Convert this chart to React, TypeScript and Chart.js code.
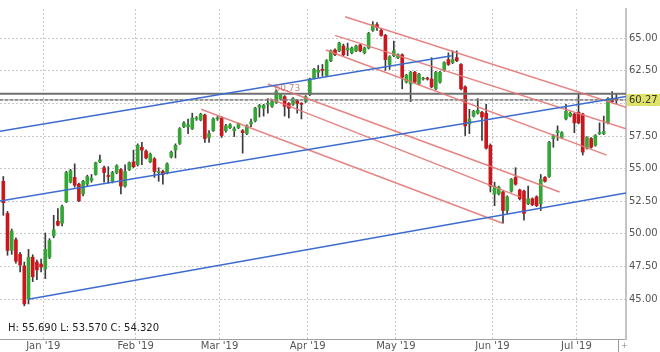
import React, { useEffect, useRef } from "react";
import { Chart, registerables } from "chart.js";

Chart.register(...registerables);

// ---- Data (daily candles, index = trading day, starting mid-December 2018) ----
const openP = [
  54.03, 51.57, 48.73, 49.55, 48.43, 47.54, 45.0, 48.21, 47.84, 47.69,
  47.31, 48.21, 49.85, 50.97, 50.82, 52.46, 53.96, 54.33, 53.81, 53.06,
  53.81, 54.1, 54.55, 55.52, 55.07, 54.48, 54.03, 54.7, 54.93, 53.66,
  54.93, 55.52, 55.3, 56.64, 56.34, 55.52, 55.75, 54.7, 54.78, 54.7,
  55.9, 56.42, 56.94, 58.21, 58.21, 58.06, 58.81, 58.73, 59.11, 57.39,
  57.91, 58.81, 58.88, 57.91, 58.14, 57.91, 58.14, 57.91, 57.69, 58.43,
  58.66, 59.7, 59.63, 59.93, 59.78, 60.07, 60.37, 60.52, 60.0, 59.93,
  60.22, 60.0, 60.15, 60.67, 61.94, 62.39, 62.61, 62.16, 63.28, 64.1,
  64.03, 64.4, 64.1, 63.88, 64.03, 64.48, 63.88, 64.25, 65.6, 66.04,
  65.6, 65.22, 62.99, 63.66, 63.51, 63.73, 61.64, 61.49, 62.39, 61.49,
  61.87, 61.94, 61.87, 61.12, 61.64, 62.54, 63.36, 63.13, 63.51, 62.99,
  61.27, 58.43, 59.03, 59.25, 59.33, 59.25, 56.79, 53.06, 53.06, 53.21,
  51.79, 53.28, 54.33, 53.36, 53.28, 52.31, 52.69, 52.84, 52.31, 54.33,
  54.4, 57.31, 57.76, 57.39, 58.81, 59.03, 59.18, 59.33, 59.18, 56.57,
  57.31, 56.79, 57.69, 57.69, 58.51, 60.37, 60.37,
];
const highP = [
  54.4, 51.72, 50.37, 49.7, 48.58, 47.84, 48.81, 48.4, 48.0, 48.06,
  50.07, 49.63, 51.42, 51.94, 52.2, 54.8, 54.95, 55.37, 53.9, 54.1,
  54.5, 54.55, 55.5, 56.04, 55.2, 55.15, 54.8, 55.3, 55.0, 55.3,
  55.52, 56.42, 56.9, 57.02, 56.45, 56.2, 55.85, 55.07, 54.9, 55.45,
  56.35, 56.9, 58.15, 58.6, 58.81, 59.25, 59.0, 59.25, 59.18, 57.91,
  58.9, 59.0, 59.0, 58.4, 58.45, 58.2, 58.5, 58.0, 58.36, 58.81,
  59.7, 59.93, 59.93, 60.37, 60.22, 61.04, 60.75, 60.6, 60.07, 60.45,
  60.3, 60.07, 60.6, 61.94, 62.7, 62.91, 62.99, 63.36, 64.1, 64.18,
  64.7, 64.55, 64.63, 64.33, 64.48, 64.55, 64.33, 65.45, 66.27, 66.19,
  65.75, 65.3, 63.66, 64.78, 63.8, 63.8, 62.24, 62.46, 62.46, 62.31,
  62.01, 62.01, 63.51, 62.46, 62.46, 63.2, 63.88, 64.03, 64.03, 63.05,
  61.35, 59.55, 59.48, 60.37, 59.4, 59.93, 56.9, 53.96, 53.66, 53.28,
  52.92, 54.25, 55.07, 53.43, 53.36, 53.66, 52.76, 52.92, 54.55, 54.4,
  57.09, 57.61, 58.28, 57.84, 59.93, 59.33, 59.25, 60.67, 59.25, 57.46,
  57.39, 57.61, 58.51, 59.03, 60.45, 60.9, 60.75,
];
const lowP = [
  51.42, 48.36, 48.43, 47.76, 47.09, 44.48, 44.63, 46.34, 46.49, 47.09,
  46.57, 48.1, 49.7, 50.6, 50.6, 52.4, 53.9, 53.58, 52.46, 52.9,
  53.7, 53.96, 54.5, 55.45, 53.96, 53.88, 53.9, 54.6, 53.06, 53.58,
  54.85, 55.07, 55.2, 55.3, 55.75, 55.45, 54.33, 54.03, 53.81, 54.6,
  55.82, 55.82, 56.85, 58.14, 57.69, 58.0, 58.7, 58.66, 57.02, 57.02,
  57.85, 58.7, 57.39, 57.8, 58.06, 57.46, 58.06, 56.19, 57.6, 58.21,
  58.58, 58.96, 59.03, 59.25, 59.7, 60.0, 60.3, 59.03, 58.88, 59.85,
  59.25, 58.81, 60.07, 60.6, 61.87, 62.01, 62.09, 62.09, 63.2, 63.66,
  63.96, 63.66, 63.66, 63.8, 63.96, 63.96, 63.8, 64.18, 65.52, 65.6,
  65.15, 62.54, 62.61, 63.58, 63.43, 61.12, 61.56, 60.15, 61.56, 61.42,
  61.79, 61.79, 61.2, 61.04, 61.56, 62.46, 62.91, 63.05, 63.2, 61.04,
  57.54, 57.69, 58.96, 59.18, 57.16, 56.5, 53.21, 52.16, 52.98, 50.82,
  51.57, 53.2, 53.73, 52.6, 51.05, 52.24, 52.16, 52.09, 51.79, 53.96,
  54.33, 56.64, 57.16, 57.31, 58.73, 58.96, 57.76, 58.43, 56.04, 56.5,
  56.57, 56.72, 57.61, 57.61, 58.43, 60.07, 60.0,
];
const closeP = [
  52.39, 48.73, 50.22, 47.91, 47.61, 44.63, 48.21, 46.72, 47.24, 47.46,
  48.81, 49.48, 50.3, 50.67, 52.09, 54.7, 54.85, 53.73, 52.54, 54.03,
  54.4, 54.25, 55.45, 55.67, 54.7, 54.4, 54.7, 55.22, 53.66, 54.78,
  55.45, 55.15, 56.79, 56.42, 55.82, 56.12, 54.78, 54.78, 54.55, 55.37,
  56.27, 56.79, 58.06, 58.51, 58.36, 58.88, 58.88, 59.18, 57.31, 57.69,
  58.81, 58.88, 57.54, 58.28, 58.36, 58.06, 58.43, 57.76, 58.28, 58.58,
  59.63, 59.85, 59.85, 60.0, 60.15, 60.9, 60.67, 59.78, 59.63, 60.37,
  60.0, 59.93, 60.52, 61.87, 62.61, 62.54, 62.54, 63.28, 64.03, 63.73,
  64.63, 63.73, 64.25, 64.25, 64.4, 64.03, 64.25, 65.37, 66.04, 65.82,
  65.22, 63.36, 63.58, 64.03, 63.73, 62.01, 62.16, 62.39, 61.64, 62.24,
  61.94, 61.87, 61.27, 62.39, 62.39, 63.13, 62.99, 63.36, 63.28, 61.12,
  58.28, 58.81, 59.4, 59.48, 58.96, 56.57, 53.66, 53.66, 53.58, 51.79,
  52.84, 54.18, 53.81, 52.69, 51.57, 52.69, 52.24, 52.16, 54.18, 54.03,
  57.02, 57.54, 57.91, 57.76, 59.4, 59.25, 58.51, 58.51, 56.27, 57.39,
  56.64, 57.54, 57.76, 57.84, 60.37, 60.15, 60.27,
];

// Month boundaries (in trading-day index units) and their labels
const monthTickIndex = [9.5, 31.5, 51.5, 72.5, 93.5, 116.5, 136.5];
const monthLabels = ["Jan '19", "Feb '19", "Mar '19", "Apr '19", "May '19", "Jun '19", "Jul '19"];
const priceTicks = [45, 47.5, 50, 52.5, 55, 57.5, 60, 62.5, 65];

// Visible ranges
const xRange = [-0.79, 148.3];
const yRange = [41.94, 67.24];

// Trend lines: [startIndex, startPrice, endIndex, endPrice]
const blueLines = [
  [-0.79, 57.87, 106.8, 63.66],
  [-0.79, 52.52, 148.3, 60.53],
  [5.95, 44.98, 148.3, 53.13],
];
const redLines = [
  [81.4, 66.64, 148.3, 59.7],
  [79.0, 65.22, 148.3, 58.06],
  [76.8, 64.1, 143.7, 56.04],
  [63.0, 61.49, 132.5, 53.21],
  [63.5, 60.37, 123.0, 52.84],
  [47.1, 59.55, 118.9, 50.82],
];
const levelHigh = 60.75;
const lastPrice = 60.27;
const levelLabel = "60.73";
const levelLabelAt = [64.6, 61.1];
const ohlcText = "H: 55.690 L: 53.570 C: 54.320";

const FONT = '"DejaVu Sans", Verdana, sans-serif';
const UP = "#35a535";
const DOWN = "#c8181e";

export default function App() {
  const ref = useRef<HTMLCanvasElement | null>(null);

  useEffect(() => {
    if (!ref.current) return;
    const idx = openP.map((_, i) => i);
    const colors = idx.map((i) => (closeP[i] >= openP[i] ? UP : DOWN));

    const lineDs = (seg: number[], color: string, width: number, dash: number[] = []) => ({
      type: "line" as const,
      data: [
        { x: seg[0], y: seg[1] },
        { x: seg[2], y: seg[3] },
      ],
      borderColor: color,
      borderWidth: width,
      borderDash: dash,
      pointRadius: 0,
      fill: false,
      tension: 0,
      order: 0,
    });

    const overlay = {
      id: "overlay",
      afterDraw(chart: any) {
        const { ctx, chartArea } = chart;
        const x = chart.scales.x;
        const y = chart.scales.y;
        ctx.save();
        // level label
        ctx.font = `9px ${FONT}`;
        ctx.fillStyle = "rgba(185,110,110,0.85)";
        ctx.textAlign = "left";
        ctx.textBaseline = "middle";
        ctx.fillText(levelLabel, x.getPixelForValue(levelLabelAt[0]), y.getPixelForValue(levelLabelAt[1]));
        // last price box
        const py = y.getPixelForValue(lastPrice);
        ctx.fillStyle = "#e0e36a";
        ctx.fillRect(chartArea.right + 1, py - 6, chart.width - chartArea.right - 1, 12);
        ctx.fillStyle = "#333";
        ctx.font = `10px ${FONT}`;
        ctx.fillText(lastPrice.toFixed(2), chartArea.right + 3, py);
        // OHLC status text
        ctx.fillStyle = "#222";
        ctx.fillText(ohlcText, chartArea.left + 8, chartArea.bottom - 11);
        // small handle at bottom-right
        ctx.strokeStyle = "#999";
        ctx.lineWidth = 1;
        ctx.beginPath();
        ctx.moveTo(chartArea.right - 7.5, chartArea.bottom);
        ctx.lineTo(chartArea.right - 7.5, chart.height);
        ctx.stroke();
        ctx.fillStyle = "#999";
        ctx.font = `8px ${FONT}`;
        ctx.fillText("+", chartArea.right - 5, chartArea.bottom + 7);
        ctx.restore();
      },
    };

    const chart = new Chart(ref.current, {
      type: "bar",
      data: {
        datasets: [
          ...blueLines.map((s) => lineDs(s, "#3d6cd0", 1.5)),
          ...redLines.map((s) => lineDs(s, "rgba(228,118,118,0.9)", 1.5)),
          lineDs([xRange[0], levelHigh, xRange[1], levelHigh], "#707070", 2),
          lineDs([xRange[0], lastPrice, xRange[1], lastPrice], "#9a9a9a", 1),
          lineDs([xRange[0], lastPrice, xRange[1], lastPrice], "#222", 1, [3, 2]),
          {
            type: "bar" as const,
            data: idx.map((i) => ({ x: i, y: [openP[i], closeP[i]] })),
            backgroundColor: colors,
            borderWidth: 0,
            barThickness: 3,
            minBarLength: 1,
            grouped: false,
            order: 1,
          },
          {
            type: "bar" as const,
            data: idx.map((i) => ({ x: i, y: [lowP[i], highP[i]] })),
            backgroundColor: "#3a3a3a",
            borderWidth: 0,
            barThickness: 1,
            grouped: false,
            order: 2,
          },
        ] as any,
      },
      options: {
        animation: false,
        responsive: false,
        devicePixelRatio: 1,
        events: [],
        layout: { padding: 0 },
        plugins: { legend: { display: false }, tooltip: { enabled: false } },
        scales: {
          x: {
            type: "linear",
            min: xRange[0],
            max: xRange[1],
            offset: false,
            position: "bottom",
            afterBuildTicks: (s: any) => {
              s.ticks = monthTickIndex.map((v) => ({ value: v }));
            },
            afterFit: (s: any) => {
              s.height = 13;
            },
            grid: { color: "#c8c8c8", lineWidth: 1, drawTicks: false, offset: false },
            border: { display: true, color: "#a0a0a0", width: 1, dash: [2, 2] },
            ticks: {
              autoSkip: false,
              maxRotation: 0,
              padding: 1,
              color: "#555",
              font: { family: FONT, size: 10 },
              callback: (_v: any, i: number) => monthLabels[i],
            },
          },
          y: {
            type: "linear",
            position: "right",
            min: yRange[0],
            max: yRange[1],
            afterBuildTicks: (s: any) => {
              s.ticks = priceTicks.map((v) => ({ value: v }));
            },
            afterFit: (s: any) => {
              s.width = 34;
            },
            grid: { color: "#c8c8c8", lineWidth: 1, drawTicks: false },
            border: { display: true, color: "#c4c4c4", width: 2, dash: [2, 2] },
            ticks: {
              padding: 3,
              color: "#555",
              font: { family: FONT, size: 10 },
              callback: (v: any) => Number(v).toFixed(2),
            },
          },
        },
      } as any,
      plugins: [overlay],
    });

    return () => chart.destroy();
  }, []);

  return (
    <div style={{ position: "fixed", left: 0, top: 0, width: 660, height: 352, background: "#fff" }}>
      <canvas ref={ref} width={660} height={352} style={{ display: "block" }} />
    </div>
  );
}
